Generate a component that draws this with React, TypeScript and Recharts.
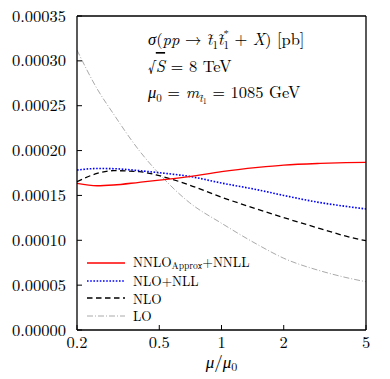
import React from 'react';
import { LineChart, Line, XAxis, YAxis, Legend } from 'recharts';

const FONT = "'Latin Modern Roman', 'Liberation Serif', serif";

const muValues = [0.2, 0.25, 0.3, 0.4, 0.5, 0.7, 1, 1.5, 2, 3, 4, 5];
const nnloApproxNnll = [1.635e-4, 1.608e-4, 1.616e-4, 1.646e-4, 1.67e-4, 1.709e-4, 1.765e-4, 1.812e-4, 1.838e-4, 1.857e-4, 1.865e-4, 1.869e-4];
const nloNll = [1.783e-4, 1.8e-4, 1.798e-4, 1.776e-4, 1.753e-4, 1.712e-4, 1.638e-4, 1.562e-4, 1.5e-4, 1.42e-4, 1.378e-4, 1.349e-4];
const nlo = [1.653e-4, 1.745e-4, 1.776e-4, 1.765e-4, 1.72e-4, 1.616e-4, 1.48e-4, 1.345e-4, 1.253e-4, 1.13e-4, 1.046e-4, 0.995e-4];
const lo = [3.12e-4, 2.69e-4, 2.41e-4, 2.0e-4, 1.74e-4, 1.42e-4, 1.19e-4, 0.95e-4, 0.8e-4, 0.66e-4, 0.585e-4, 0.538e-4];

const xTicks = [0.2, 0.5, 1, 2, 5];
const yTicks = [0, 0.00005, 0.0001, 0.00015, 0.0002, 0.00025, 0.0003, 0.00035];
const legendOrder = ['nnlo', 'nlonll', 'nlo', 'lo'];

const data = muValues.map((mu, i) => ({
  mu,
  nnlo: nnloApproxNnll[i],
  nlonll: nloNll[i],
  nlo: nlo[i],
  lo: lo[i],
}));

const legendLabel = (key: string) => {
  if (key === 'nnlo')
    return (
      <span>
        NNLO<span style={{ fontSize: 9.5, position: 'relative', top: 2 }}>Approx</span>+NNLL
      </span>
    );
  if (key === 'nlonll') return <span>NLO+NLL</span>;
  if (key === 'nlo') return <span>NLO</span>;
  return <span>LO</span>;
};

const renderLegend = (props: any) => {
  const payload = [...(props.payload || [])].sort(
    (a: any, b: any) => legendOrder.indexOf(a.dataKey) - legendOrder.indexOf(b.dataKey)
  );
  return (
    <div style={{ fontFamily: FONT, fontSize: 13.3, color: '#000', lineHeight: '15px' }}>
      {payload.map((entry: any) => {
        const p = entry.payload || {};
        return (
          <div key={entry.dataKey} style={{ display: 'flex', alignItems: 'center', height: 17.7 }}>
            <svg width={46} height={10} style={{ flex: 'none' }}>
              <line
                x1={0}
                x2={38}
                y1={5}
                y2={5}
                stroke={entry.color}
                strokeWidth={p.strokeWidth || 1.3}
                strokeDasharray={p.strokeDasharray}
              />
            </svg>
            {legendLabel(entry.dataKey)}
          </div>
        );
      })}
    </div>
  );
};

const XTick = (props: any) => (
  <text x={props.x} y={props.y} dy="0.68em" textAnchor="middle" fontFamily={FONT} fontSize={16.5} fill="#000">
    {String(props.payload.value)}
  </text>
);

const YTick = (props: any) => (
  <text x={props.x} y={props.y} dy="0.34em" textAnchor="end" fontFamily={FONT} fontSize={16.5} fill="#000">
    {Number(props.payload.value).toFixed(5)}
  </text>
);

const XTitle = (props: any) => {
  const vb = props.viewBox || {};
  const cx = vb.x + vb.width / 2;
  return (
    <text x={cx} y={vb.y + 38} textAnchor="middle" fontFamily={FONT} fontSize={17} fill="#000">
      <tspan fontStyle="italic">μ</tspan>
      <tspan>/</tspan>
      <tspan fontStyle="italic">μ</tspan>
      <tspan fontSize={12} dy={3}>0</tspan>
    </text>
  );
};

const axisLine = { stroke: '#000', strokeWidth: 1.3 };
const tickLine = { stroke: '#000', strokeWidth: 1 };

export default function App() {
  return (
    <div style={{ position: 'absolute', left: 0, top: 0, width: 390, height: 379, background: '#fff', fontFamily: FONT }}>
      <LineChart width={390} height={379} data={data} margin={{ top: 15, right: 23, bottom: 0, left: 0 }}>
        <XAxis
          xAxisId="b"
          dataKey="mu"
          type="number"
          scale="log"
          domain={[0.2, 5]}
          ticks={xTicks}
          allowDataOverflow
          orientation="bottom"
          height={49}
          tickSize={-5}
          tickMargin={12}
          tick={<XTick />}
          axisLine={axisLine}
          tickLine={tickLine}
          interval={0}
          label={<XTitle />}
        />
        <XAxis
          xAxisId="t"
          dataKey="mu"
          type="number"
          scale="log"
          domain={[0.2, 5]}
          ticks={xTicks}
          allowDataOverflow
          orientation="top"
          height={1}
          tickSize={-5}
          tick={false}
          axisLine={axisLine}
          tickLine={tickLine}
          interval={0}
        />
        <YAxis
          yAxisId="l"
          type="number"
          domain={[0, 0.00035]}
          ticks={yTicks}
          allowDataOverflow
          orientation="left"
          width={77}
          tickSize={-5}
          tickMargin={16}
          tick={<YTick />}
          axisLine={axisLine}
          tickLine={tickLine}
          interval={0}
        />
        <YAxis
          yAxisId="r"
          type="number"
          domain={[0, 0.00035]}
          ticks={yTicks}
          allowDataOverflow
          orientation="right"
          width={1}
          tickSize={-5}
          tick={false}
          axisLine={axisLine}
          tickLine={tickLine}
          interval={0}
        />
        <Line
          xAxisId="b"
          yAxisId="l"
          dataKey="lo"
          name="LO"
          type="monotone"
          stroke="#aaaaaa"
          strokeWidth={1}
          strokeDasharray="6 2 1 2"
          dot={false}
          isAnimationActive={false}
        />
        <Line
          xAxisId="b"
          yAxisId="l"
          dataKey="nlo"
          name="NLO"
          type="monotone"
          stroke="#000000"
          strokeWidth={1.3}
          strokeDasharray="5.5 3.5"
          dot={false}
          isAnimationActive={false}
        />
        <Line
          xAxisId="b"
          yAxisId="l"
          dataKey="nlonll"
          name="NLO+NLL"
          type="monotone"
          stroke="#0000ff"
          strokeWidth={1.6}
          strokeDasharray="1.6 1.6"
          dot={false}
          isAnimationActive={false}
        />
        <Line
          xAxisId="b"
          yAxisId="l"
          dataKey="nnlo"
          name="NNLO_Approx+NNLL"
          type="monotone"
          stroke="#ff0000"
          strokeWidth={1.3}
          dot={false}
          isAnimationActive={false}
        />
        <Legend
          layout="vertical"
          align="center"
          verticalAlign="middle"
          content={renderLegend}
          wrapperStyle={{ left: 87, top: 254, width: 240, height: 71 }}
        />
      </LineChart>
      <svg
        width={390}
        height={379}
        style={{ position: 'absolute', left: 0, top: 0, pointerEvents: 'none' }}
      >
        <text x={148} y={45} fontFamily={FONT} fontSize={16.5} fill="#000">
          <tspan fontStyle="italic">σ</tspan>
          <tspan>(</tspan>
          <tspan fontStyle="italic">pp</tspan>
          <tspan> → </tspan>
          <tspan fontStyle="italic">t̃</tspan>
          <tspan fontSize={11} dy={4}>1</tspan>
          <tspan fontStyle="italic" dy={-4}>t̃</tspan>
          <tspan fontSize={11} dy={4}>1</tspan>
          <tspan fontSize={11} dx={-5.5} dy={-11}>*</tspan>
          <tspan dy={7}> + </tspan>
          <tspan fontStyle="italic">X</tspan>
          <tspan>) [pb]</tspan>
        </text>
        <text x={148} y={72} fontFamily={FONT} fontSize={16.5} fill="#000">
          <tspan>√</tspan>
          <tspan fontStyle="italic" textDecoration="overline">S</tspan>
          <tspan> = 8 TeV</tspan>
        </text>
        <text x={148} y={98} fontFamily={FONT} fontSize={16.5} fill="#000">
          <tspan fontStyle="italic">μ</tspan>
          <tspan fontSize={11} dy={4}>0</tspan>
          <tspan dy={-4}> = </tspan>
          <tspan fontStyle="italic">m</tspan>
          <tspan fontStyle="italic" fontSize={11} dy={4}>t̃</tspan>
          <tspan fontSize={8} dy={2}>1</tspan>
          <tspan dy={-6}> = 1085 GeV</tspan>
        </text>
      </svg>
    </div>
  );
}
